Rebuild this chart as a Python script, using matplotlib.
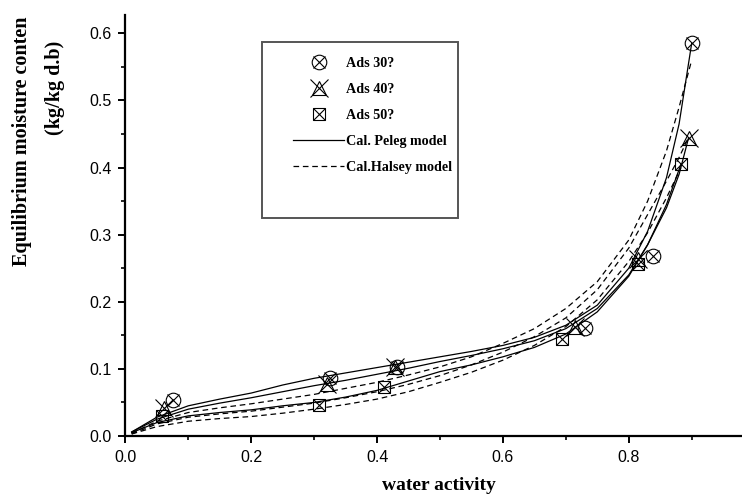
import matplotlib
matplotlib.use("Agg")
import matplotlib.pyplot as plt
from matplotlib.lines import Line2D
from matplotlib.patches import Rectangle
from matplotlib.legend_handler import HandlerTuple

# ---- data ----
aw_30 = [0.076, 0.325, 0.431, 0.731, 0.839, 0.900]
emc_30 = [0.054, 0.087, 0.103, 0.161, 0.268, 0.585]
aw_40 = [0.062, 0.320, 0.429, 0.715, 0.815, 0.895]
emc_40 = [0.042, 0.078, 0.103, 0.163, 0.264, 0.444]
aw_50 = [0.058, 0.308, 0.411, 0.694, 0.814, 0.883]
emc_50 = [0.030, 0.046, 0.073, 0.145, 0.257, 0.405]

aw_base = [0.01, 0.05, 0.10, 0.15, 0.20, 0.25, 0.30, 0.35, 0.40, 0.45,
           0.50, 0.55, 0.60, 0.65, 0.70, 0.75, 0.80, 0.83, 0.86]
aw_m30 = aw_base + [0.88, 0.90]
aw_m40 = aw_base + [0.88, 0.895]
aw_m50 = aw_base + [0.883]

peleg_30 = [0.006, 0.028, 0.045, 0.055, 0.064, 0.076, 0.086, 0.094, 0.102, 0.110,
            0.118, 0.126, 0.135, 0.147, 0.165, 0.195, 0.250, 0.305, 0.385, 0.465, 0.585]
peleg_40 = [0.006, 0.025, 0.040, 0.049, 0.057, 0.066, 0.075, 0.083, 0.092, 0.101,
            0.111, 0.120, 0.130, 0.142, 0.160, 0.190, 0.240, 0.285, 0.340, 0.390, 0.444]
peleg_50 = [0.005, 0.020, 0.030, 0.035, 0.039, 0.045, 0.050, 0.058, 0.068, 0.082,
            0.096, 0.106, 0.118, 0.132, 0.152, 0.185, 0.238, 0.285, 0.345, 0.405]

halsey_30 = [0.004, 0.022, 0.035, 0.042, 0.048, 0.055, 0.062, 0.071, 0.080, 0.091,
             0.103, 0.118, 0.138, 0.160, 0.190, 0.230, 0.292, 0.350, 0.425, 0.490, 0.560]
halsey_40 = [0.003, 0.018, 0.028, 0.033, 0.037, 0.043, 0.049, 0.057, 0.066, 0.077,
             0.090, 0.106, 0.125, 0.148, 0.176, 0.218, 0.280, 0.330, 0.380, 0.415, 0.445]
halsey_50 = [0.003, 0.014, 0.022, 0.026, 0.029, 0.034, 0.040, 0.047, 0.055, 0.066,
             0.080, 0.095, 0.113, 0.135, 0.163, 0.203, 0.260, 0.303, 0.355, 0.400]

x_ticks = [0.0, 0.2, 0.4, 0.6, 0.8]
x_tick_labels = ["0.0", "0.2", "0.4", "0.6", "0.8"]
y_ticks = [0.0, 0.1, 0.2, 0.3, 0.4, 0.5, 0.6]
y_tick_labels = ["0.0", "0.1", "0.2", "0.3", "0.4", "0.5", "0.6"]

labels = ["Ads 30?", "Ads 40?", "Ads 50?", "Cal. Peleg model", "Cal.Halsey model"]
x_label = "water activity"
y_label_1 = "Equilibrium moisture conten"
y_label_2 = "(kg/kg d.b)"

# ---- figure ----
W, H = 742, 495
fig = plt.figure(figsize=(W / 100, H / 100), dpi=100)
ax_l, ax_b, ax_r, ax_t = 125.4, 436, 742, 15
ax = fig.add_axes([ax_l / W, 1 - ax_b / H, (ax_r - ax_l) / W, (ax_b - ax_t) / H])
ax.set_xlim(0, 0.98)
ax.set_ylim(0, 0.6274)

lw = 0.9
dash = (0, (4.5, 3))
ax.plot(aw_m30, peleg_30, color="black", lw=lw)
ax.plot(aw_m40, peleg_40, color="black", lw=lw)
ax.plot(aw_m50, peleg_50, color="black", lw=lw)
ax.plot(aw_m30, halsey_30, color="black", lw=lw, linestyle=dash)
ax.plot(aw_m40, halsey_40, color="black", lw=lw, linestyle=dash)
ax.plot(aw_m50, halsey_50, color="black", lw=lw, linestyle=dash)

mew = 0.8
h30a, = ax.plot(aw_30, emc_30, linestyle="none", marker="o", ms=10.5, mfc="none", mec="black", mew=mew)
h30b, = ax.plot(aw_30, emc_30, linestyle="none", marker="x", ms=9, mec="black", mew=mew)
h40a, = ax.plot(aw_40, emc_40, linestyle="none", marker="^", ms=10, mfc="none", mec="black", mew=mew)
h40b, = ax.plot(aw_40, emc_40, linestyle="none", marker="x", ms=13, mec="black", mew=mew)
h50a, = ax.plot(aw_50, emc_50, linestyle="none", marker="s", ms=9, mfc="none", mec="black", mew=mew)
h50b, = ax.plot(aw_50, emc_50, linestyle="none", marker="x", ms=8, mec="black", mew=mew)

h_pel = Line2D([], [], color="black", lw=lw)
h_hal = Line2D([], [], color="black", lw=lw, linestyle=dash)

# axes styling
for s in ["top", "right"]:
    ax.spines[s].set_visible(False)
for s in ["left", "bottom"]:
    ax.spines[s].set_linewidth(1.6)
ax.set_xticks(x_ticks)
ax.set_xticklabels(x_tick_labels)
ax.set_yticks(y_ticks)
ax.set_yticklabels(y_tick_labels)
ax.set_xticks([0.1, 0.3, 0.5, 0.7, 0.9], minor=True)
ax.set_yticks([0.05, 0.15, 0.25, 0.35, 0.45, 0.55], minor=True)
ax.tick_params(which="major", direction="out", length=5, width=1.4, pad=5,
               labelsize=11.5, labelfontfamily="Liberation Sans")
ax.tick_params(which="minor", direction="out", length=3, width=1.2)

serif = "Liberation Serif"
fig.text(439 / W, 1 - 485 / H, x_label, ha="center", va="center",
         fontsize=14, fontweight="bold", family=serif)
fig.text(22 / W, 1 - 141 / H, y_label_1, rotation=90, ha="center", va="center",
         fontsize=14.5, fontweight="bold", family=serif)
fig.text(55 / W, 1 - 88 / H, y_label_2, rotation=90, ha="center", va="center",
         fontsize=14.5, fontweight="bold", family=serif)

# legend box
def fx(px):
    return (px - ax_l) / (ax_r - ax_l)

def fy(py):
    return (ax_b - py) / (ax_b - ax_t)

ax.add_patch(Rectangle((fx(262), fy(218)), fx(458) - fx(262), fy(42) - fy(218),
                       transform=ax.transAxes, fill=False, edgecolor="#555555",
                       lw=1.4, zorder=5))

leg = ax.legend([(h30a, h30b), (h40a, h40b), (h50a, h50b), h_pel, h_hal], labels,
                handler_map={tuple: HandlerTuple(ndivide=1)},
                loc="upper left", bbox_to_anchor=(fx(293), fy(57)),
                frameon=False, borderpad=0, borderaxespad=0,
                handlelength=3.6, handletextpad=0.15, labelspacing=0.92,
                prop={"family": serif, "weight": "bold", "size": 10.2})

fig.savefig("out.png", dpi=100)
